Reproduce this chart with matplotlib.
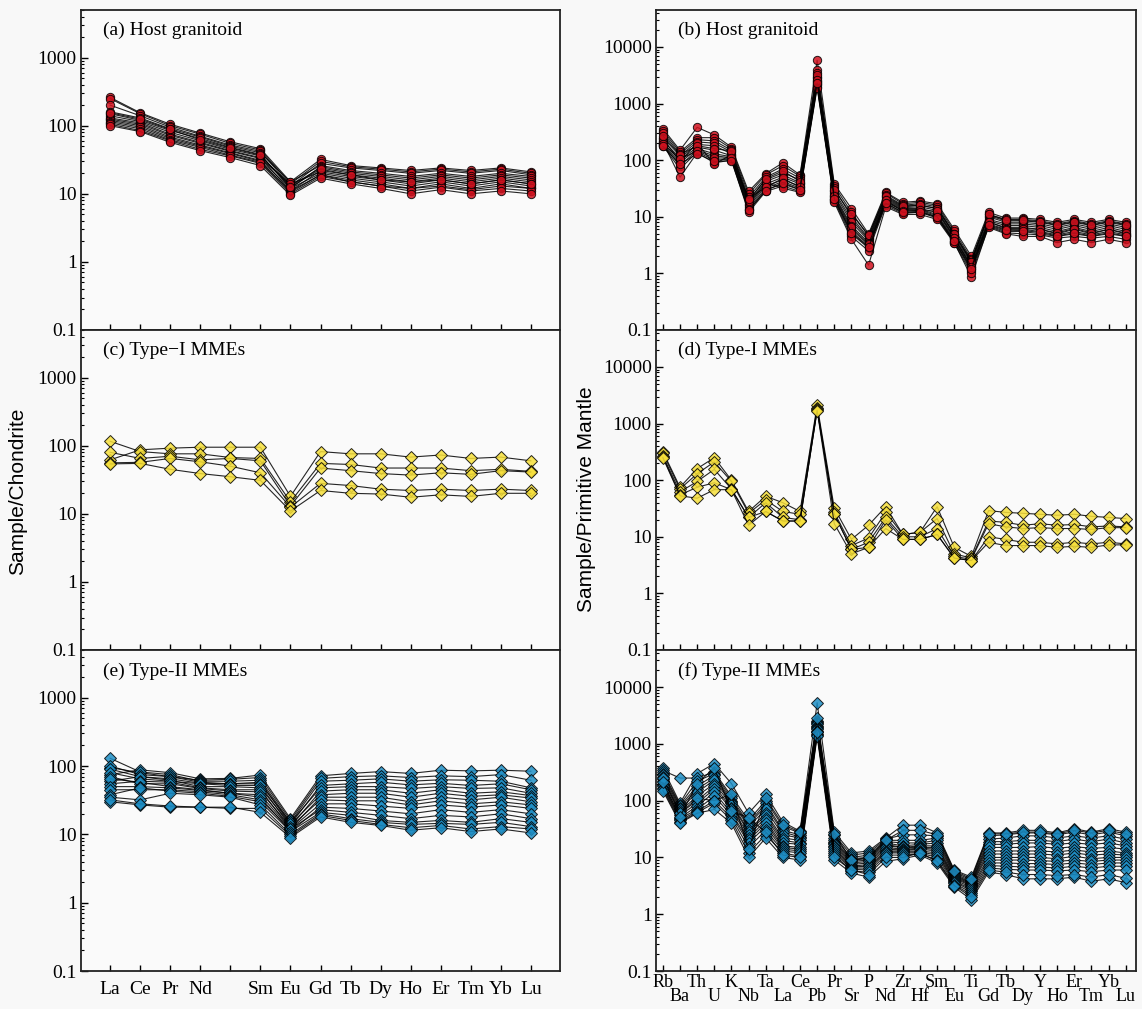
import matplotlib
matplotlib.use("Agg")
import matplotlib.pyplot as plt
from matplotlib.ticker import LogLocator, NullFormatter

# ---------------- data ----------------
ree_labels = ["La", "Ce", "Pr", "Nd", "", "Sm", "Eu", "Gd", "Tb", "Dy", "Ho", "Er", "Tm", "Yb", "Lu"]
spider_labels = ["Rb", "Ba", "Th", "U", "K", "Nb", "Ta", "La", "Ce", "Pb", "Pr", "Sr", "P", "Nd",
                 "Zr", "Hf", "Sm", "Eu", "Ti", "Gd", "Tb", "Dy", "Y", "Ho", "Er", "Tm", "Yb", "Lu"]

# (a) Host granitoid, chondrite-normalised
host_ree = [
    [260, 155, 105, 78, 58, 46, 15, 32, 26, 24, 22, 24, 22, 24, 21],
    [250, 150, 100, 75, 55, 44, 14, 30, 25, 23, 21, 23, 21, 23, 20],
    [200, 140, 95, 70, 52, 42, 13, 28, 24, 22, 20, 22, 20, 22, 19],
    [160, 130, 90, 68, 50, 40, 15, 26, 22, 20, 18, 20, 18, 20, 18],
    [150, 120, 85, 65, 48, 38, 12, 25, 21, 19, 17, 19, 17, 19, 17],
    [140, 115, 80, 60, 45, 36, 13, 24, 20, 18, 16, 18, 16, 18, 16],
    [130, 110, 75, 57, 43, 34, 11, 22, 19, 17, 15, 17, 15, 17, 15],
    [125, 105, 72, 55, 42, 33, 14, 21, 18, 16, 14, 16, 14, 16, 14],
    [120, 100, 68, 52, 40, 31, 12, 20, 17, 15, 13, 15, 13, 15, 13],
    [115, 95, 65, 50, 39, 30, 10.5, 19, 16, 14, 12, 14, 12, 14, 12],
    [110, 90, 62, 48, 37, 29, 11, 19, 15, 13, 12, 13, 11.5, 13, 12],
    [105, 85, 60, 45, 36, 28, 10, 18, 15, 13, 11, 12.5, 11, 12, 11],
    [100, 82, 57, 43, 34, 26, 9.5, 17, 14, 12, 10, 11.5, 10, 11, 10],
    [155, 125, 88, 62, 47, 37, 12.5, 23, 19, 16, 15, 16, 14, 16, 14],
]

# (b) Host granitoid, primitive-mantle-normalised
host_spider = [
    [360, 150, 380, 280, 170, 28, 58, 90, 55, 5800, 38, 14, 5, 27, 18, 19, 17, 6, 2.0, 12, 9.5, 9.5, 9, 8, 9, 8, 9, 8],
    [330, 140, 250, 250, 160, 25, 55, 80, 52, 4000, 35, 12, 4.5, 26, 17, 18, 16, 5.5, 1.8, 11, 9, 9, 8.5, 7.5, 8.5, 7.5, 8.5, 7.5],
    [300, 130, 230, 220, 150, 22, 50, 70, 48, 3500, 32, 10, 4.2, 24, 16, 17, 15, 5, 1.7, 10.5, 8.5, 8.5, 8, 7, 8, 7, 8, 7],
    [250, 120, 210, 200, 140, 20, 45, 60, 45, 3000, 28, 9, 4, 22, 15, 16, 14, 4.8, 1.6, 10, 8, 8, 7.5, 6.5, 7.5, 6.5, 7.5, 6.5],
    [220, 110, 190, 180, 130, 18, 42, 55, 40, 2800, 26, 8, 3.8, 21, 14.5, 15, 13, 4.5, 1.5, 9, 7.5, 7.5, 7, 6, 7, 6, 7, 6],
    [200, 100, 170, 150, 120, 16, 38, 50, 38, 2500, 24, 7, 3.5, 20, 14, 14, 12, 4.2, 1.4, 8.5, 7, 7, 6.5, 5.5, 6.5, 5.5, 6.5, 5.5],
    [190, 90, 160, 130, 115, 15, 35, 45, 35, 2400, 22, 6, 3.2, 19, 13.5, 13.5, 11, 4, 1.3, 8, 6.5, 6.5, 6, 5, 6, 5, 6, 5],
    [185, 80, 150, 120, 110, 14, 32, 42, 32, 2200, 21, 5.5, 3, 18, 13, 13, 10.5, 3.8, 1.2, 7.5, 6, 6, 5.5, 4.8, 5.5, 4.8, 5.5, 4.8],
    [180, 70, 140, 100, 105, 13, 30, 38, 30, 2100, 20, 5, 2.8, 17, 12, 12.5, 10, 3.6, 1.1, 7, 5.5, 5.5, 5, 4.5, 5, 4.5, 5, 4.5],
    [210, 50, 135, 90, 100, 12, 28, 35, 28, 2000, 19, 4.5, 2.5, 16, 11.5, 12, 9.5, 3.5, 0.85, 6.8, 5.2, 5, 4.8, 4.2, 4.5, 4.2, 4.5, 4],
    [240, 95, 200, 85, 125, 17, 40, 32, 27, 1900, 18, 4, 1.4, 15, 11, 11, 9, 3.4, 1.0, 6.5, 5, 4.5, 4.5, 3.5, 4, 3.5, 4, 3.5],
    [270, 125, 180, 160, 145, 19, 47, 65, 42, 3200, 30, 11, 4.8, 23, 15.5, 16, 14, 5, 1.6, 11, 8.8, 8.7, 8.2, 7.2, 8.2, 7.2, 8.2, 7.3],
    [195, 105, 145, 110, 108, 21, 33, 48, 33, 2600, 23, 6.5, 3.3, 19.5, 12.5, 13, 12.5, 4.3, 1.3, 8.2, 6.2, 6.2, 6, 5.2, 6.2, 5.2, 6, 5.2],
    [175, 85, 130, 95, 98, 13, 29, 40, 30, 2300, 21, 5.2, 2.9, 17.5, 12, 12, 10, 3.7, 1.2, 7.2, 5.8, 5.7, 5.3, 4.6, 5.2, 4.6, 5.2, 4.6],
]

# (c) Type-I MMEs, chondrite-normalised
type1_ree = [
    [62, 87, 92, 95, 95, 95, 18, 82, 76, 76, 68, 73, 65, 68, 60],
    [116, 82, 76, 76, 67, 65, 15, 55, 53, 47, 47, 47, 43, 45, 42],
    [80, 65, 70, 62, 65, 60, 13, 47, 43, 39, 37, 40, 38, 43, 41],
    [56, 57, 65, 58, 50, 40, 12.5, 28, 26, 23, 22, 23, 22, 23, 22],
    [54, 55, 45, 39, 35, 31, 11, 22, 20, 19.5, 17.5, 19, 18, 20, 20],
]

# (d) Type-I MMEs, primitive-mantle-normalised
type1_spider = [
    [320, 75, 160, 250, 100, 28, 52, 40, 28, 2100, 32, 9, 16, 34, 11, 12, 34, 6.5, 4.5, 29, 27, 26, 25, 24, 25, 23, 22, 21],
    [300, 70, 130, 210, 95, 26, 45, 28, 25, 1900, 27, 7, 9.5, 27, 11, 12, 21, 5, 4.2, 19, 18, 16, 17, 16, 16.5, 15, 15.5, 15],
    [270, 62, 95, 155, 70, 22, 40, 22, 20, 1800, 25, 6, 8, 22, 10, 10, 14, 4.5, 4, 17, 15, 14, 14.5, 14, 14, 13.5, 14.5, 14.5],
    [260, 55, 75, 90, 68, 22, 28, 19, 19, 1750, 25, 6, 6.5, 20, 9, 9, 11, 4.2, 3.8, 10, 9, 8, 8, 7.5, 8, 7.5, 8, 7.5],
    [250, 53, 48, 68, 68, 16, 28, 19, 19, 1700, 17, 5, 6.5, 14, 9, 9, 11, 4.2, 3.8, 8, 7, 7, 7, 6.5, 6.8, 6.5, 7.2, 7.2],
]

# (e) Type-II MMEs, chondrite-normalised
type2_ree = [
    [75, 88, 80, 65, 66, 74, 17, 72, 78, 83, 78, 87, 85, 87, 84],
    [95, 80, 70, 62, 64, 68, 16, 66, 70, 72, 68, 72, 70, 75, 62],
    [130, 82, 75, 60, 60, 62, 15, 60, 62, 65, 60, 63, 62, 60, 48],
    [100, 75, 70, 58, 55, 58, 14, 52, 55, 58, 53, 56, 52, 55, 45],
    [90, 70, 65, 56, 55, 55, 15, 48, 50, 50, 47, 50, 47, 48, 40],
    [80, 65, 60, 55, 52, 52, 13, 43, 45, 45, 40, 45, 40, 42, 37],
    [60, 70, 62, 50, 50, 48, 14, 38, 40, 40, 35, 40, 36, 38, 34],
    [55, 60, 58, 48, 45, 45, 12, 35, 35, 35, 30, 35, 32, 35, 30],
    [70, 55, 55, 47, 43, 42, 13, 32, 31, 31, 27, 31, 28, 30, 27],
    [65, 58, 50, 45, 40, 38, 12, 28, 28, 26, 24, 27, 25, 27, 24],
    [50, 50, 48, 44, 40, 35, 11, 25, 24, 22, 20, 23, 21, 23, 20],
    [45, 45, 45, 42, 38, 32, 12, 23, 21, 19, 17, 19, 18, 20, 17],
    [38, 48, 43, 40, 36, 30, 11, 21, 19, 16, 15, 16, 15, 17, 15],
    [35, 32, 40, 38, 35, 27, 10, 20, 17, 15, 14, 14.5, 14, 15, 13],
    [30, 27, 25, 25, 24, 24, 9.5, 19, 16, 14, 12.5, 13.5, 12, 13, 12],
    [32, 28, 26, 25, 25, 21, 9, 18, 15, 13.5, 11.5, 12.5, 11, 12, 10.5],
]

# (f) Type-II MMEs, primitive-mantle-normalised
type2_spider = [
    [370, 90, 300, 450, 200, 60, 130, 42, 29, 5300, 28, 12, 13, 22, 37, 37, 27, 6, 4.5, 27, 27, 30, 30, 27, 32, 28, 32, 28],
    [340, 250, 250, 320, 120, 45, 100, 35, 27, 2500, 25, 11, 12, 21, 25, 25, 24, 5.5, 4, 24, 25, 27, 27, 25, 28, 25, 28, 24],
    [320, 85, 220, 300, 110, 40, 90, 30, 25, 2400, 22, 10, 11, 20, 20, 20, 22, 5.2, 3.8, 21, 22, 24, 24, 22, 24, 22, 24, 21],
    [300, 80, 180, 280, 100, 38, 80, 28, 23, 2300, 20, 9.5, 10, 19, 18, 18, 20, 5, 3.6, 19, 19, 20, 20, 19, 21, 19, 21, 18],
    [280, 75, 160, 250, 95, 35, 70, 25, 22, 2200, 19, 9, 9.5, 18, 16, 17, 18, 4.8, 3.5, 17, 17, 18, 18, 17, 18, 17, 18, 16],
    [260, 70, 140, 230, 90, 30, 60, 22, 20, 2100, 18, 8.5, 9, 17, 15, 16, 16, 4.6, 3.4, 15, 15, 15, 15.5, 14.5, 15.5, 14.5, 15, 14],
    [240, 65, 120, 200, 85, 28, 55, 20, 18, 2000, 17, 8, 8.5, 16, 15, 15, 15, 4.4, 3.3, 13, 13, 13, 13, 12.5, 13.5, 12.5, 13, 12],
    [220, 60, 100, 180, 75, 25, 50, 18, 17, 1900, 16, 7.5, 8, 15, 14, 14.5, 14, 4.2, 3.2, 11.5, 11.5, 11.5, 11.5, 11, 12, 11, 11.5, 11],
    [200, 55, 90, 160, 70, 22, 45, 16, 15, 1800, 15, 7, 7.5, 14, 13.5, 14, 13, 4, 3.0, 10, 10, 10, 10, 9.5, 10.5, 9.5, 10, 10],
    [190, 50, 80, 140, 60, 20, 40, 15, 14, 1700, 14, 6.8, 7, 13, 13, 13, 12, 3.8, 2.8, 9, 9, 9, 8.8, 8.5, 9, 8.5, 9, 9],
    [180, 48, 70, 120, 55, 18, 35, 14, 13, 1600, 13, 6.5, 6.5, 12.5, 12.5, 12.5, 11, 3.7, 2.6, 8, 8, 7.8, 7.8, 7.5, 8, 7.5, 8, 8],
    [170, 45, 65, 100, 50, 15, 30, 13, 12, 1500, 12, 6.2, 6, 12, 12, 12, 10, 3.5, 2.4, 7.2, 7, 6.8, 6.8, 6.5, 7, 6.5, 7, 7],
    [160, 42, 62, 90, 45, 12, 25, 12, 10.5, 1450, 11, 5.8, 5.5, 11, 11, 11.5, 9, 3.3, 2.2, 6.5, 6.2, 6, 6, 5.8, 6, 5.6, 6, 6],
    [150, 40, 60, 70, 40, 10, 22, 10, 9, 1350, 9, 5.3, 4.5, 8.5, 9.5, 11, 8, 3, 1.8, 5.5, 5, 4.2, 4.2, 4.2, 4.5, 3.8, 4.2, 3.6],
    [250, 60, 110, 100, 130, 14, 110, 38, 28, 2800, 26, 9, 10, 20, 30, 30, 25, 5.8, 4.2, 26, 26, 28, 28, 26, 30, 27, 30, 26],
    [210, 52, 200, 380, 65, 50, 28, 11, 10, 1600, 10, 6, 5, 10, 10, 12, 8.5, 3.2, 2.0, 6, 5.5, 5, 5, 4.8, 5, 4.5, 5, 4.3],
]

panel_titles = ["(a) Host granitoid", "(b) Host granitoid",
                "(c) Type\u2212I MMEs", "(d) Type-I MMEs",
                "(e) Type-II MMEs", "(f) Type-II MMEs"]

# ---------------- style ----------------
SERIF = ["Liberation Serif", "DejaVu Serif"]
SANS = ["Liberation Sans", "DejaVu Sans"]
BG = "#f8f8f8"
RED = "#d0121f"
YELLOW = "#f6df3a"
BLUE = "#1f8fc6"

fig = plt.figure(figsize=(11.42, 10.09), dpi=100, facecolor=BG)
W, H = 1142.0, 1009.0
cols = [(81, 560), (656, 1136)]
rows = [(10, 330), (330, 650), (650, 971)]


def make_ax(col, row):
    x0, x1 = cols[col]
    y0, y1 = rows[row]
    ax = fig.add_axes([x0 / W, 1 - y1 / H, (x1 - x0) / W, (y1 - y0) / H])
    ax.set_facecolor("#fafafa")
    for s in ax.spines.values():
        s.set_linewidth(1.3)
        s.set_color("#222222")
    return ax


def draw(ax, samples, marker, color, ms):
    for vals in samples:
        xs = list(range(len(vals)))
        ax.plot(xs, vals, color="black", lw=0.8, alpha=0.85,
                marker=marker, ms=ms, mfc=color, mec="black", mew=0.7, zorder=3)


def style_y(ax, top, ticks):
    ax.set_yscale("log")
    ax.set_ylim(0.1, top)
    ax.set_yticks(ticks)
    ax.set_yticklabels([("%g" % t) for t in ticks], fontfamily=SERIF, fontsize=14)
    ax.yaxis.set_minor_locator(LogLocator(base=10, subs=range(2, 10), numticks=20))
    ax.yaxis.set_minor_formatter(NullFormatter())
    ax.tick_params(axis="y", which="major", direction="in", length=5, width=1, pad=3,
                   left=True, right=False)
    ax.tick_params(axis="y", which="minor", direction="in", length=2.5, width=0.8,
                   left=True, right=False)


samples_left = [(host_ree, "o", RED, 6), (type1_ree, "D", YELLOW, 6.3), (type2_ree, "D", BLUE, 6.3)]
samples_right = [(host_spider, "o", RED, 6), (type1_spider, "D", YELLOW, 6.3), (type2_spider, "D", BLUE, 6.3)]

for r in range(3):
    # left: REE
    ax = make_ax(0, r)
    data, mk, colr, ms = samples_left[r]
    draw(ax, data, mk, colr, ms)
    style_y(ax, 5000, [0.1, 1, 10, 100, 1000])
    ax.set_xlim(-0.97, len(ree_labels) - 1 + 0.97)
    ax.set_xticks(range(len(ree_labels)))
    if r == 2:
        ax.set_xticklabels(ree_labels, fontfamily=SERIF, fontsize=14)
    else:
        ax.set_xticklabels([])
    ax.tick_params(axis="x", which="major", direction="in", length=4, width=1, pad=7,
                   bottom=True, top=False)
    ax.text(0.045, 0.935, panel_titles[2 * r], transform=ax.transAxes,
            fontfamily=SERIF, fontsize=14, ha="left", va="center")

    # right: spider
    ax = make_ax(1, r)
    data, mk, colr, ms = samples_right[r]
    draw(ax, data, mk, colr, ms)
    style_y(ax, 45000, [0.1, 1, 10, 100, 1000, 10000])
    n = len(spider_labels)
    ax.set_xlim(-0.4, n - 1 + 0.6)
    even = list(range(0, n, 2))
    odd = list(range(1, n, 2))
    ax.set_xticks(even)
    ax.set_xticks(odd, minor=True)
    if r == 2:
        ax.set_xticklabels([spider_labels[i] for i in even], fontfamily=SERIF, fontsize=13)
        ax.set_xticklabels([spider_labels[i] for i in odd], minor=True, fontfamily=SERIF, fontsize=13)
    else:
        ax.set_xticklabels([])
        ax.set_xticklabels([], minor=True)
    ax.tick_params(axis="x", which="major", direction="in", length=4, width=1, pad=2,
                   bottom=True, top=False)
    ax.tick_params(axis="x", which="minor", direction="in", length=4, width=1, pad=12,
                   bottom=True, top=False)
    ax.text(0.045, 0.935, panel_titles[2 * r + 1], transform=ax.transAxes,
            fontfamily=SERIF, fontsize=14, ha="left", va="center")

fig.text(18 / W, 1 - 491 / H, "Sample/Chondrite", rotation=90, ha="center", va="center",
         fontfamily=SANS, fontsize=15)
fig.text(587 / W, 1 - 499 / H, "Sample/Primitive Mantle", rotation=90, ha="center", va="center",
         fontfamily=SANS, fontsize=15)

fig.savefig("out.png", dpi=100, facecolor=BG)
